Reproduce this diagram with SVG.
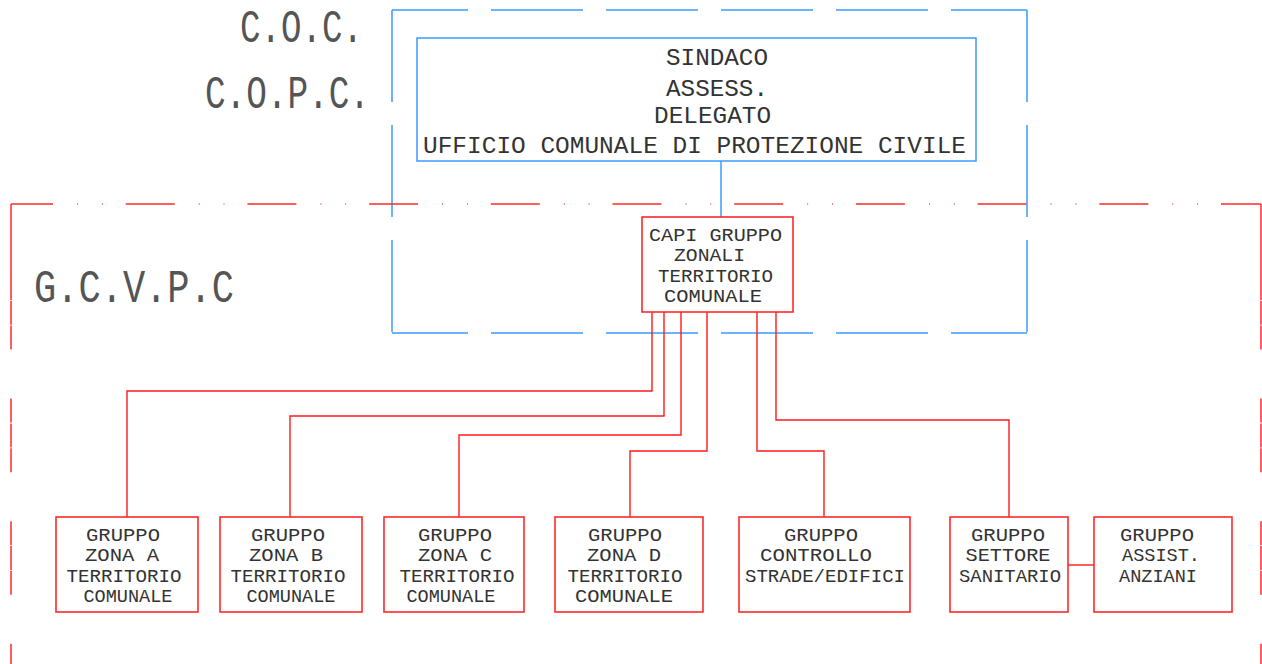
<svg xmlns="http://www.w3.org/2000/svg" width="1262" height="664" viewBox="0 0 1262 664">
<style>
.bg{fill:#ffffff}
.blue{fill:none;stroke:#3d9bff;stroke-width:1.5}
.bdash{fill:none;stroke:#3d9bff;stroke-width:1.5;stroke-dasharray:92 23}
.red{fill:none;stroke:#ff2a2a;stroke-width:1.5}
.rdash{fill:none;stroke:#ff2a2a;stroke-width:1.5}
.box{fill:#ffffff;stroke:#ff2a2a;stroke-width:1.6}
.bbox{fill:#ffffff;stroke:#3d9bff;stroke-width:1.5}
.conn{fill:none;stroke:#ff1a1a;stroke-width:1.4}
.t{font-family:"Liberation Mono","DejaVu Sans Mono",monospace;fill:#333}
.big{font-size:46px;fill:#555}
.mid{font-size:24px}
.sm{font-size:19px}
</style>
<rect class="bg" x="0" y="0" width="1262" height="664"/>
<g id="frames">
  <line class="bdash" x1="392" y1="10" x2="1027" y2="10" stroke-dashoffset="16"/>
  <line class="bdash" x1="392" y1="333" x2="1027" y2="333" stroke-dashoffset="16"/>
  <line class="bdash" x1="392" y1="10" x2="392" y2="333"/>
  <line class="bdash" x1="1027" y1="10" x2="1027" y2="333"/>
  <line class="rdash" x1="11" y1="204" x2="1261" y2="204" stroke-dasharray="49 24.1 0.8 24 0.8 23" stroke-dashoffset="7"/>
  <line class="red" x1="11" y1="204" x2="11" y2="276"/>
  <line class="rdash" x1="11" y1="276" x2="11" y2="664" stroke-dasharray="24 0.8 24 0.8 24 49"/>
  <line class="red" x1="1261" y1="204" x2="1261" y2="276"/>
  <line class="rdash" x1="1261" y1="276" x2="1261" y2="664" stroke-dasharray="24 0.8 24 0.8 24 49"/>
</g>
<g id="labels">
  <text class="t big" x="240" y="42" textLength="123" lengthAdjust="spacingAndGlyphs">C.O.C.</text>
  <text class="t big" x="205" y="108" textLength="165" lengthAdjust="spacingAndGlyphs">C.O.P.C.</text>
  <text class="t big" x="34" y="302" textLength="200" lengthAdjust="spacingAndGlyphs">G.C.V.P.C</text>
</g>
<g id="connectors">
  <line class="blue" x1="721" y1="161" x2="721" y2="217"/>
  <path class="conn" d="M652,312 V391 H127 V517"/>
  <path class="conn" d="M664,312 V416 H290 V517"/>
  <path class="conn" d="M681,312 V435 H459 V517"/>
  <path class="conn" d="M707,312 V451 H630 V517"/>
  <path class="conn" d="M757,312 V451 H824 V517"/>
  <path class="conn" d="M776,312 V420 H1009 V517"/>
  <path class="conn" d="M1068,565 H1094"/>
</g>
<g id="sindaco">
  <rect class="bbox" x="417" y="38" width="559" height="123"/>
  <text class="t mid" x="666" y="65" textLength="102" lengthAdjust="spacingAndGlyphs">SINDACO</text>
  <text class="t mid" x="666" y="96" textLength="102" lengthAdjust="spacingAndGlyphs">ASSESS.</text>
  <text class="t mid" x="654" y="123" textLength="117" lengthAdjust="spacingAndGlyphs">DELEGATO</text>
  <text class="t mid" x="423" y="153" textLength="543" lengthAdjust="spacingAndGlyphs">UFFICIO COMUNALE DI PROTEZIONE CIVILE</text>
</g>
<g id="capi">
  <rect class="box" x="642" y="217" width="151" height="95"/>
  <text class="t sm" x="649" y="241" textLength="133" lengthAdjust="spacingAndGlyphs">CAPI GRUPPO</text>
  <text class="t sm" x="674" y="261" textLength="71" lengthAdjust="spacingAndGlyphs">ZONALI</text>
  <text class="t sm" x="658" y="282" textLength="115" lengthAdjust="spacingAndGlyphs">TERRITORIO</text>
  <text class="t sm" x="664" y="302" textLength="98" lengthAdjust="spacingAndGlyphs">COMUNALE</text>
</g>
<g id="zona-a">
  <rect class="box" x="56" y="517" width="142" height="95"/>
  <text class="t sm" x="123" y="541" text-anchor="middle" textLength="74" lengthAdjust="spacingAndGlyphs">GRUPPO</text>
  <text class="t sm" x="122" y="561" text-anchor="middle" textLength="74" lengthAdjust="spacingAndGlyphs">ZONA A</text>
  <text class="t sm" x="124" y="582" text-anchor="middle" textLength="115" lengthAdjust="spacingAndGlyphs">TERRITORIO</text>
  <text class="t sm" x="128" y="602" text-anchor="middle" textLength="89" lengthAdjust="spacingAndGlyphs">COMUNALE</text>
</g>
<g id="zona-b">
  <rect class="box" x="220" y="517" width="142" height="95"/>
  <text class="t sm" x="288" y="541" text-anchor="middle" textLength="74" lengthAdjust="spacingAndGlyphs">GRUPPO</text>
  <text class="t sm" x="286" y="561" text-anchor="middle" textLength="74" lengthAdjust="spacingAndGlyphs">ZONA B</text>
  <text class="t sm" x="288" y="582" text-anchor="middle" textLength="115" lengthAdjust="spacingAndGlyphs">TERRITORIO</text>
  <text class="t sm" x="291" y="602" text-anchor="middle" textLength="89" lengthAdjust="spacingAndGlyphs">COMUNALE</text>
</g>
<g id="zona-c">
  <rect class="box" x="384" y="517" width="140" height="95"/>
  <text class="t sm" x="455" y="541" text-anchor="middle" textLength="74" lengthAdjust="spacingAndGlyphs">GRUPPO</text>
  <text class="t sm" x="455" y="561" text-anchor="middle" textLength="74" lengthAdjust="spacingAndGlyphs">ZONA C</text>
  <text class="t sm" x="457" y="582" text-anchor="middle" textLength="115" lengthAdjust="spacingAndGlyphs">TERRITORIO</text>
  <text class="t sm" x="451" y="602" text-anchor="middle" textLength="89" lengthAdjust="spacingAndGlyphs">COMUNALE</text>
</g>
<g id="zona-d">
  <rect class="box" x="555" y="517" width="148" height="95"/>
  <text class="t sm" x="625" y="541" text-anchor="middle" textLength="74" lengthAdjust="spacingAndGlyphs">GRUPPO</text>
  <text class="t sm" x="624" y="561" text-anchor="middle" textLength="74" lengthAdjust="spacingAndGlyphs">ZONA D</text>
  <text class="t sm" x="625" y="582" text-anchor="middle" textLength="115" lengthAdjust="spacingAndGlyphs">TERRITORIO</text>
  <text class="t sm" x="624" y="602" text-anchor="middle" textLength="98" lengthAdjust="spacingAndGlyphs">COMUNALE</text>
</g>
<g id="controllo">
  <rect class="box" x="739" y="517" width="171" height="95"/>
  <text class="t sm" x="821" y="541" text-anchor="middle" textLength="74" lengthAdjust="spacingAndGlyphs">GRUPPO</text>
  <text class="t sm" x="816" y="561" text-anchor="middle" textLength="112" lengthAdjust="spacingAndGlyphs">CONTROLLO</text>
  <text class="t sm" x="825" y="582" text-anchor="middle" textLength="160" lengthAdjust="spacingAndGlyphs">STRADE/EDIFICI</text>
</g>
<g id="sanitario">
  <rect class="box" x="950" y="517" width="118" height="95"/>
  <text class="t sm" x="1008" y="541" text-anchor="middle" textLength="74" lengthAdjust="spacingAndGlyphs">GRUPPO</text>
  <text class="t sm" x="1008" y="561" text-anchor="middle" textLength="85" lengthAdjust="spacingAndGlyphs">SETTORE</text>
  <text class="t sm" x="1010" y="582" text-anchor="middle" textLength="102" lengthAdjust="spacingAndGlyphs">SANITARIO</text>
</g>
<g id="anziani">
  <rect class="box" x="1094" y="517" width="138" height="95"/>
  <text class="t sm" x="1157" y="541" text-anchor="middle" textLength="74" lengthAdjust="spacingAndGlyphs">GRUPPO</text>
  <text class="t sm" x="1161" y="561" text-anchor="middle" textLength="78" lengthAdjust="spacingAndGlyphs">ASSIST.</text>
  <text class="t sm" x="1158" y="582" text-anchor="middle" textLength="78" lengthAdjust="spacingAndGlyphs">ANZIANI</text>
</g>
</svg>
